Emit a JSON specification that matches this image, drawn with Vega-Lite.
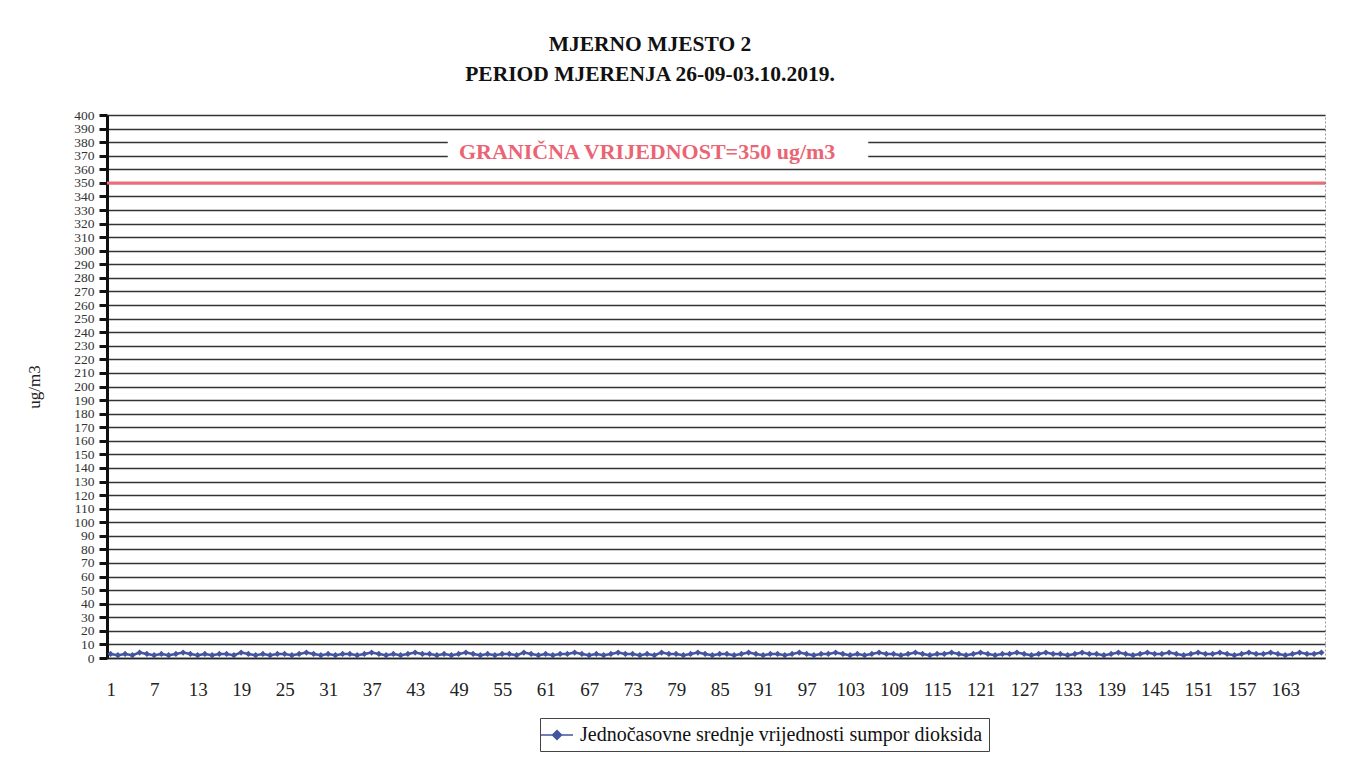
{
  "$schema": "https://vega.github.io/schema/vega-lite/v6.json",
  "width": 1218,
  "height": 543,
  "autosize": {"type": "none"},
  "padding": {"left": 107, "top": 115, "right": 23, "bottom": 125},
  "background": "white",
  "title": {
    "text": ["MJERNO MJESTO 2", "PERIOD MJERENJA 26-09-03.10.2019."],
    "font": "Liberation Serif",
    "fontSize": 21.5,
    "fontWeight": "bold",
    "color": "#111",
    "lineHeight": 30,
    "anchor": "middle",
    "dx": -66,
    "offset": 23
  },
  "config": {
    "view": {"stroke": "#999", "strokeDash": [2, 2], "strokeWidth": 1}
  },
  "datasets": {
    "so2": [
      {"h":1,"v":3},{"h":2,"v":2},{"h":3,"v":3},{"h":4,"v":2},{"h":5,"v":4},{"h":6,"v":3},{"h":7,"v":2},{"h":8,"v":3},{"h":9,"v":2},{"h":10,"v":3},{"h":11,"v":4},{"h":12,"v":3},
      {"h":13,"v":2},{"h":14,"v":3},{"h":15,"v":2},{"h":16,"v":3},{"h":17,"v":3},{"h":18,"v":2},{"h":19,"v":4},{"h":20,"v":3},{"h":21,"v":2},{"h":22,"v":3},{"h":23,"v":2},{"h":24,"v":3},
      {"h":25,"v":3},{"h":26,"v":2},{"h":27,"v":3},{"h":28,"v":4},{"h":29,"v":3},{"h":30,"v":2},{"h":31,"v":3},{"h":32,"v":2},{"h":33,"v":3},{"h":34,"v":3},{"h":35,"v":2},{"h":36,"v":3},
      {"h":37,"v":4},{"h":38,"v":3},{"h":39,"v":2},{"h":40,"v":3},{"h":41,"v":2},{"h":42,"v":3},{"h":43,"v":4},{"h":44,"v":3},{"h":45,"v":3},{"h":46,"v":2},{"h":47,"v":3},{"h":48,"v":2},
      {"h":49,"v":3},{"h":50,"v":4},{"h":51,"v":3},{"h":52,"v":2},{"h":53,"v":3},{"h":54,"v":2},{"h":55,"v":3},{"h":56,"v":3},{"h":57,"v":2},{"h":58,"v":4},{"h":59,"v":3},{"h":60,"v":2},
      {"h":61,"v":3},{"h":62,"v":2},{"h":63,"v":3},{"h":64,"v":3},{"h":65,"v":4},{"h":66,"v":3},{"h":67,"v":2},{"h":68,"v":3},{"h":69,"v":2},{"h":70,"v":3},{"h":71,"v":4},{"h":72,"v":3},
      {"h":73,"v":3},{"h":74,"v":2},{"h":75,"v":3},{"h":76,"v":2},{"h":77,"v":4},{"h":78,"v":3},{"h":79,"v":3},{"h":80,"v":2},{"h":81,"v":3},{"h":82,"v":4},{"h":83,"v":3},{"h":84,"v":2},
      {"h":85,"v":3},{"h":86,"v":3},{"h":87,"v":2},{"h":88,"v":3},{"h":89,"v":4},{"h":90,"v":3},{"h":91,"v":2},{"h":92,"v":3},{"h":93,"v":3},{"h":94,"v":2},{"h":95,"v":3},{"h":96,"v":4},
      {"h":97,"v":3},{"h":98,"v":2},{"h":99,"v":3},{"h":100,"v":3},{"h":101,"v":4},{"h":102,"v":3},{"h":103,"v":2},{"h":104,"v":3},{"h":105,"v":2},{"h":106,"v":3},{"h":107,"v":4},{"h":108,"v":3},
      {"h":109,"v":3},{"h":110,"v":2},{"h":111,"v":3},{"h":112,"v":4},{"h":113,"v":3},{"h":114,"v":2},{"h":115,"v":3},{"h":116,"v":3},{"h":117,"v":4},{"h":118,"v":3},{"h":119,"v":2},{"h":120,"v":3},
      {"h":121,"v":4},{"h":122,"v":3},{"h":123,"v":2},{"h":124,"v":3},{"h":125,"v":3},{"h":126,"v":4},{"h":127,"v":3},{"h":128,"v":2},{"h":129,"v":3},{"h":130,"v":4},{"h":131,"v":3},{"h":132,"v":3},
      {"h":133,"v":2},{"h":134,"v":3},{"h":135,"v":4},{"h":136,"v":3},{"h":137,"v":3},{"h":138,"v":2},{"h":139,"v":3},{"h":140,"v":4},{"h":141,"v":3},{"h":142,"v":2},{"h":143,"v":3},{"h":144,"v":4},
      {"h":145,"v":3},{"h":146,"v":3},{"h":147,"v":4},{"h":148,"v":3},{"h":149,"v":2},{"h":150,"v":3},{"h":151,"v":4},{"h":152,"v":3},{"h":153,"v":3},{"h":154,"v":4},{"h":155,"v":3},{"h":156,"v":2},
      {"h":157,"v":3},{"h":158,"v":4},{"h":159,"v":3},{"h":160,"v":3},{"h":161,"v":4},{"h":162,"v":3},{"h":163,"v":2},{"h":164,"v":3},{"h":165,"v":4},{"h":166,"v":3},{"h":167,"v":3},{"h":168,"v":4}
    ],
    "limit": [
      {"x1": 47.5, "x2": 105.5, "y1": 365, "y2": 386, "yl": 373, "xl": 75, "value": 350, "label": "GRANIČNA VRIJEDNOST=350 ug/m3"}
    ]
  },
  "layer": [
    {
      "data": {"name": "so2"},
      "mark": {"type": "line", "color": "#4455a0", "strokeWidth": 2.5,
        "point": {"shape": "diamond", "size": 40, "filled": true, "color": "#4455a0"}},
      "encoding": {
        "x": {
          "field": "h", "type": "quantitative",
          "scale": {"domain": [0.5, 168.5], "nice": false, "zero": false},
          "axis": {
            "title": null,
            "values": [1,7,13,19,25,31,37,43,49,55,61,67,73,79,85,91,97,103,109,115,121,127,133,139,145,151,157,163],
            "tickCount": 200,
            "grid": false,
            "ticks": false,
            "domain": true,
            "domainColor": "#222",
            "domainWidth": 1.5,
            "labelFont": "Liberation Serif",
            "labelFontSize": 19,
            "labelColor": "#222",
            "labelPadding": 22,
            "labelOverlap": false
          }
        },
        "y": {
          "field": "v", "type": "quantitative",
          "scale": {"domain": [0, 400], "nice": false},
          "axis": {
            "title": "ug/m3",
            "titleFont": "Liberation Serif",
            "titleFontSize": 17,
            "titleFontWeight": "normal",
            "titleColor": "#222",
            "titlePadding": 30,
            "values": [0,10,20,30,40,50,60,70,80,90,100,110,120,130,140,150,160,170,180,190,200,210,220,230,240,250,260,270,280,290,300,310,320,330,340,350,360,370,380,390,400],
            "tickCount": 200,
            "grid": true,
            "gridColor": "#333",
            "gridWidth": 1.5,
            "domain": true,
            "domainColor": "#111",
            "domainWidth": 3,
            "ticks": true,
            "tickColor": "#111",
            "tickWidth": 3,
            "tickSize": 8,
            "labelFont": "Liberation Serif",
            "labelFontSize": 13.5,
            "labelColor": "#333",
            "labelPadding": 5,
            "labelOverlap": false,
            "labelBound": false,
            "labelFlush": false
          }
        },
        "color": {
          "datum": "Jednočasovne srednje vrijednosti sumpor dioksida",
          "scale": {"range": ["#4455a0"]},
          "legend": {
            "title": null,
            "orient": "none",
            "legendX": 433,
            "legendY": 603,
            "strokeColor": "#444",
            "fillColor": "white",
            "padding": 6,
            "labelFont": "Liberation Serif",
            "labelFontSize": 20,
            "labelColor": "#111",
            "labelLimit": 700,
            "symbolType": "M-1.6,0L1.6,0M0,-0.45L0.45,0L0,0.45L-0.45,0Z",
            "symbolSize": 400,
            "symbolStrokeWidth": 1.5,
            "symbolFillColor": "#4455a0",
            "symbolStrokeColor": "#4455a0",
            "labelOffset": 12
          }
        }
      }
    },
    {
      "data": {"name": "limit"},
      "mark": {"type": "rule", "color": "#ef6b77", "strokeWidth": 3},
      "encoding": {"y": {"field": "value", "type": "quantitative"}}
    },
    {
      "data": {"name": "limit"},
      "mark": {"type": "rect", "color": "white"},
      "encoding": {
        "x": {"field": "x1", "type": "quantitative"},
        "x2": {"field": "x2"},
        "y": {"field": "y1", "type": "quantitative"},
        "y2": {"field": "y2"}
      }
    },
    {
      "data": {"name": "limit"},
      "mark": {"type": "text", "color": "#ea6473", "font": "Liberation Serif", "fontSize": 22, "fontWeight": "bold", "align": "center", "baseline": "middle"},
      "encoding": {
        "x": {"field": "xl", "type": "quantitative"},
        "y": {"field": "yl", "type": "quantitative"},
        "text": {"field": "label"}
      }
    }
  ]
}
